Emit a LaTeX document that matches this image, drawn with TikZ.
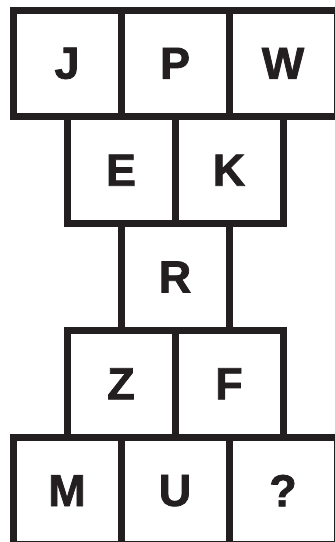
\documentclass[tikz,border=0pt]{standalone}
\usepackage{fontspec}
\setmainfont{Liberation Sans}
\newfontfamily\heavy[FakeBold=1.6]{Liberation Sans Bold}
\definecolor{ink}{HTML}{231F20}
\begin{document}
\begin{tikzpicture}[x=1pt,y=1pt,
  cell/.style={draw=ink, line width=7pt, rectangle, minimum width=108pt, minimum height=106.8pt,
    inner sep=0pt, text=ink, font=\heavy\fontsize{45}{45}\selectfont}]
\useasboundingbox (0,0) rectangle (335,-542);
\def\ra{-63.4}\def\rb{-170.2}\def\rc{-277}\def\rd{-383.8}\def\re{-490.6}
\node[cell] (J) at (67,\ra) {J};
\node[cell] (P) at (175,\ra) {P};
\node[cell] (W) at (283,\ra) {W};
\node[cell] (E) at (121,\rb) {E};
\node[cell] (K) at (229,\rb) {K};
\node[cell] (R) at (175,\rc) {R};
\node[cell] (Z) at (121,\rd) {Z};
\node[cell] (F) at (229,\rd) {F};
\node[cell] (M) at (67,\re) {M};
\node[cell] (U) at (175,\re) {U};
\node[cell] (Q) at (283,\re) {?};
\end{tikzpicture}
\end{document}
